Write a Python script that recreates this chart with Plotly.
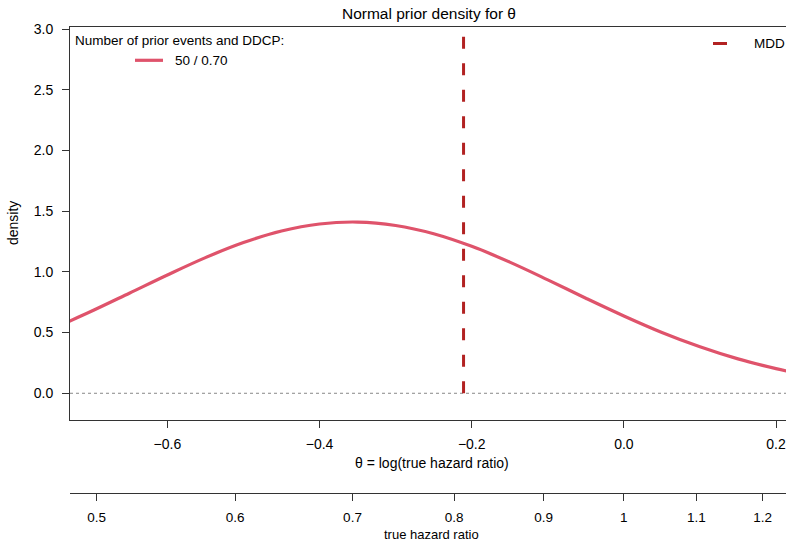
import numpy as np
import plotly.graph_objects as go

# ---- data ----
theta = [-0.73, -0.70, -0.65, -0.60, -0.55, -0.50, -0.45, -0.40, -0.35, -0.30,
         -0.25, -0.20, -0.15, -0.10, -0.05, 0.00, 0.05, 0.10, 0.15, 0.20, 0.22]
density = [0.590, 0.675, 0.824, 0.974, 1.117, 1.241, 1.336, 1.394, 1.410, 1.382,
           1.314, 1.210, 1.080, 0.934, 0.783, 0.637, 0.501, 0.383, 0.283, 0.203, 0.176]
mdd_hr = 0.81
theta_ticks = [-0.6, -0.4, -0.2, 0.0, 0.2]
theta_labels = ["\u22120.6", "\u22120.4", "\u22120.2", "0.0", "0.2"]
hr_ticks = [0.5, 0.6, 0.7, 0.8, 0.9, 1.0, 1.1, 1.2]
hr_labels = ["0.5", "0.6", "0.7", "0.8", "0.9", "1", "1.1", "1.2"]
y_ticks = [0.0, 0.5, 1.0, 1.5, 2.0, 2.5, 3.0]
y_labels = ["0.0", "0.5", "1.0", "1.5", "2.0", "2.5", "3.0"]
series_label = "50 / 0.70"
legend_title = "Number of prior events and DDCP:"

# ---- layout geometry ----
W, H = 786, 541
ML, MR, MT, MB = 70, 0, 27, 48
PW, PH = W - ML - MR, H - MT - MB
def px(x):
    return (x - ML) / PW
def py(y):
    return (H - MB - y) / PH

FONT = "Liberation Sans, Arial, Helvetica, sans-serif"
CURVE = "#DF536B"
MDDC = "#B22222"
xr = [-0.728, 0.2131]
yr = [-0.216, 3.0165]

fig = go.Figure()
fig.add_trace(go.Scatter(x=theta, y=density, mode="lines",
                         line=dict(color=CURVE, width=3.2, shape="spline"),
                         showlegend=False, hoverinfo="skip"))
# invisible trace for the secondary (hazard-ratio) axis
fig.add_trace(go.Scatter(x=[], y=[], xaxis="x2", yaxis="y", showlegend=False))

shapes = [
    dict(type="line", xref="x domain", yref="y", x0=0, x1=1, y0=0, y1=0,
         line=dict(color="#888888", width=1, dash="dot"), layer="below"),
    dict(type="line", xref="x", yref="y", x0=float(np.log(mdd_hr)), x1=float(np.log(mdd_hr)),
         y0=0, y1=yr[1], line=dict(color=MDDC, width=3, dash="12px,14.5px")),
    # legend samples
    dict(type="line", xref="paper", yref="paper", x0=px(135), x1=px(163), y0=py(60.3), y1=py(60.3),
         line=dict(color=CURVE, width=3.2)),
    dict(type="line", xref="paper", yref="paper", x0=px(713), x1=px(727), y0=py(43.5), y1=py(43.5),
         line=dict(color=MDDC, width=3)),
]

ann = [
    dict(text=legend_title, x=px(73), y=py(40.7), xanchor="left", yanchor="middle", font=dict(size=13.5)),
    dict(text=series_label, x=px(172.5), y=py(60.3), xanchor="left", yanchor="middle", font=dict(size=13.5)),
    dict(text="MDD", x=px(751.5), y=py(43.5), xanchor="left", yanchor="middle", font=dict(size=13.5)),
    dict(text="\u03b8 = log(true hazard ratio)", x=px(431.5), y=py(463), xanchor="center", yanchor="middle",
         font=dict(size=14)),
    dict(text="true hazard ratio", x=px(431.5), y=py(534.5), xanchor="center", yanchor="middle",
         font=dict(size=13)),
    dict(text="density", x=px(13), y=py(223), xanchor="center", yanchor="middle", textangle=-90,
         font=dict(size=14)),
]
for a in ann:
    a.update(xref="paper", yref="paper", showarrow=False)

dom0 = py(419.5)
fig.update_layout(
    width=W, height=H, margin=dict(l=ML, r=MR, t=MT, b=MB, pad=0),
    paper_bgcolor="white", plot_bgcolor="white",
    font=dict(family=FONT, size=14, color="black"),
    title=dict(text="Normal prior density for \u03b8", x=px(429), xref="paper", xanchor="center",
               y=1 - 13.5 / H, yref="container", yanchor="middle", font=dict(size=15.5, color="black")),
    showlegend=False,
    xaxis=dict(range=xr, anchor="y", tickmode="array", tickvals=theta_ticks, ticktext=theta_labels,
               ticks="outside", ticklen=7, tickwidth=1, tickcolor="#333", showline=True, linecolor="#333",
               linewidth=1, mirror=True, showgrid=False, zeroline=False, tickfont=dict(size=14),
               ticklabelstandoff=5),
    xaxis2=dict(range=xr, overlaying="x", anchor="free", position=0, side="bottom", tickmode="array",
                tickvals=[float(np.log(v)) for v in hr_ticks], ticktext=hr_labels,
                ticks="outside", ticklen=7, tickwidth=1, tickcolor="#333", showline=True, linecolor="#333",
                linewidth=1, showgrid=False, zeroline=False, tickfont=dict(size=13.5), ticklabelstandoff=5),
    yaxis=dict(range=yr, domain=[dom0, 1], tickmode="array", tickvals=y_ticks, ticktext=y_labels,
               ticks="outside", ticklen=7, tickwidth=1, tickcolor="#333", showline=True, linecolor="#333",
               linewidth=1, showgrid=False, zeroline=False, tickfont=dict(size=14), ticklabelstandoff=6),
    shapes=shapes, annotations=ann,
)
fig.write_html("out.html", config={"displayModeBar": False, "staticPlot": True},
               post_script="document.body.style.margin='0';document.body.style.padding='0';"
                           "document.body.style.overflow='hidden';")
